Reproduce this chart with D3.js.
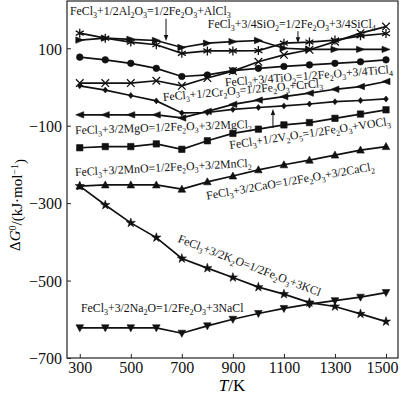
<!DOCTYPE html>
<html>
<head>
<meta charset="utf-8">
<script src="https://cdn.jsdelivr.net/npm/d3@7"></script>
<style>
  body { margin: 0; background: #fff; }
  svg { display: block; font-family: "Liberation Serif", "Times New Roman", serif; }
  .tick text { font-size: 16px; fill: #111; }
  .tick line { stroke: #222; }
  .rx-label { font-size: 11.8px; fill: #111; }
</style>
</head>
<body>
<div id="wrapper"></div>
<script>
// temperatures (K)
const temps = [300, 400, 500, 600, 700, 800, 900, 1000, 1100, 1200, 1300, 1400, 1500]

// dG0 values, kJ/mol
const alcl3 = [121, 126, 123, 120, 102, 113, 117, 120, 100, 97, 97, 97, 97]
const sicl4 = [139, 126, 116, 109, 87, 93, 93, 94, 113, 116, 121, 132, 138]
const tiDots = [77, 70, 61, 48, 27, 31, 42, 48, 53, 57, 61, 65, 70]
const crosses = [10, 10, 10, 16, 3, 23, 41, 65, 83, 96, 117, 139, 156]
const leftTri = [-72, -72, -72, -72, -80, -63, -45, -34, -25, -16, -6, 1, 14]
const diamonds = [3, -8, -22, -36, -67, -66, -58, -53, -49, -44, -38, -35, -31]
const squares = [-157, -154, -154, -147, -161, -139, -120, -109, -98, -92, -81, -70, -59]
const cacl2 = [-256, -253, -253, -253, -264, -245, -230, -214, -201, -189, -176, -163, -154]
const kcl = [-256, -305, -351, -389, -443, -468, -492, -517, -535, -557, -567, -586, -606]
const nacl = [-622, -622, -622, -622, -636, -617, -600, -585, -572, -561, -552, -543, -531]

const xTicks = [300, 500, 700, 900, 1100, 1300, 1500]
const yTicks = [100, -100, -300, -500, -700]

// 1. dimensions
let dimensions = {
  width: 400,
  height: 398,
  frame: { left: 67, right: 398, top: 1, bottom: 358 },
}

// 2. canvas
const svg = d3.select("#wrapper")
  .append("svg")
    .attr("width", dimensions.width)
    .attr("height", dimensions.height)

// 3. scales
const xScale = d3.scaleLinear()
  .domain([250, 1547])
  .range([dimensions.frame.left, dimensions.frame.right])

const yScale = d3.scaleLinear()
  .domain([-700, 222])
  .range([dimensions.frame.bottom, dimensions.frame.top])

// 4. axes + frame
const xAxis = svg.append("g")
  .attr("transform", `translate(0, ${dimensions.frame.bottom})`)
  .call(d3.axisBottom(xScale).tickValues(xTicks).tickSize(-4).tickPadding(4).tickFormat(d3.format("d")))
xAxis.select(".domain").remove()
// last label sits against the right edge in the original
xAxis.selectAll(".tick text").filter(d => d === 1500).attr("dx", -4)

const yAxis = svg.append("g")
  .attr("transform", `translate(${dimensions.frame.left}, 0)`)
  .call(d3.axisLeft(yScale).tickValues(yTicks).tickSize(-4).tickPadding(5))
yAxis.select(".domain").remove()
yAxis.selectAll(".tick text").attr("dy", "0.36em")

// d3 axes force sans-serif, put the serif back
svg.selectAll("g").attr("font-family", null).attr("font-size", null)

svg.append("rect")
  .attr("x", dimensions.frame.left)
  .attr("y", dimensions.frame.top)
  .attr("width", dimensions.frame.right - dimensions.frame.left)
  .attr("height", dimensions.frame.bottom - dimensions.frame.top)
  .attr("fill", "none")
  .attr("stroke", "#222")
  .attr("stroke-width", 1.2)

// axis titles
const xTitle = svg.append("text")
  .attr("x", 232)
  .attr("y", 391)
  .attr("text-anchor", "middle")
  .style("font-size", "17px")
xTitle.append("tspan").style("font-style", "italic").text("T")
xTitle.append("tspan").text("/K")

const yTitle = svg.append("text")
  .attr("transform", "translate(20, 205) rotate(-90)")
  .attr("text-anchor", "middle")
  .style("font-size", "15px")
yTitle.append("tspan").text("Δ")
yTitle.append("tspan").style("font-style", "italic").text("G")
yTitle.append("tspan").attr("dy", "-0.45em").style("font-size", "10px").text("0")
yTitle.append("tspan").attr("dy", "0.45em").text("/(kJ·mol")
yTitle.append("tspan").attr("dy", "-0.45em").style("font-size", "10px").text("−1")
yTitle.append("tspan").attr("dy", "0.45em").text(")")

// 5. markers
const markerShapes = {
  rightTri: { d: "M-4,-3.2L4,0L-4,3.2Z", fill: true },
  leftTri: { d: "M4,-3.2L-4,0L4,3.2Z", fill: true },
  upTri: { d: "M0,-4L3.8,3L-3.8,3Z", fill: true },
  downTri: { d: "M0,4L3.8,-3L-3.8,-3Z", fill: true },
  square: { d: "M-3.2,-3.2H3.2V3.2H-3.2Z", fill: true },
  circle: { d: d3.symbol(d3.symbolCircle, 34)(), fill: true },
  diamond: { d: "M0,-3L2.4,0L0,3L-2.4,0Z", fill: true },
  star: { d: d3.symbol(d3.symbolStar, 26)(), fill: true },
  asterisk: { d: "M0,-4.5V4.5M-4,-2.3L4,2.3M-4,2.3L4,-2.3", fill: false },
  cross: { d: "M-3.8,-3.8L3.8,3.8M-3.8,3.8L3.8,-3.8", fill: false },
}

const series = [
  { values: sicl4, marker: "asterisk" },
  { values: alcl3, marker: "rightTri" },
  { values: tiDots, marker: "circle" },
  { values: crosses, marker: "cross" },
  { values: leftTri, marker: "leftTri" },
  { values: diamonds, marker: "diamond" },
  { values: squares, marker: "square" },
  { values: cacl2, marker: "upTri" },
  { values: kcl, marker: "star" },
  { values: nacl, marker: "downTri" },
]

const lineGenerator = d3.line()
  .x((d, i) => xScale(temps[i]))
  .y(d => yScale(d))

const drawSeries = (s) => {
  const g = svg.append("g")
  g.append("path")
    .datum(s.values)
    .attr("d", lineGenerator)
    .attr("fill", "none")
    .attr("stroke", "#111")
    .attr("stroke-width", 1.7)
  const shape = markerShapes[s.marker]
  g.selectAll("path.pt")
    .data(s.values)
    .join("path")
      .attr("class", "pt")
      .attr("d", shape.d)
      .attr("transform", (d, i) => `translate(${xScale(temps[i])}, ${yScale(d)})`)
      .attr("fill", shape.fill ? "#111" : "none")
      .attr("stroke", "#111")
      .attr("stroke-width", shape.fill ? 0.6 : 1.3)
}
series.forEach(drawSeries)

// 6. reaction labels (pieces: [text, 1 if subscript])
const labels = [
  { t: 262, v: 186, rot: 0, parts: [["FeCl"], ["3", 1], ["+1/2Al"], ["2", 1], ["O"], ["3", 1], ["=1/2Fe"], ["2", 1], ["O"], ["3", 1], ["+AlCl"], ["3", 1]] },
  { t: 802, v: 152, rot: 0, parts: [["FeCl"], ["3", 1], ["+3/4SiO"], ["2", 1], ["=1/2Fe"], ["2", 1], ["O"], ["3", 1], ["+3/4SiCl"], ["4", 1]] },
  { t: 870, v: 2, rot: -4.5, parts: [["FeCl"], ["3", 1], ["+3/4TiO"], ["2", 1], ["=1/2Fe"], ["2", 1], ["O"], ["3", 1], ["+3/4TiCl"], ["4", 1]] },
  { t: 627, v: -36, rot: -5, parts: [["FeCl"], ["3", 1], ["+1/2Cr"], ["2", 1], ["O"], ["3", 1], ["=1/2Fe"], ["2", 1], ["O"], ["3", 1], ["+CrCl"], ["3", 1]] },
  { t: 282, v: -122, rot: -2, parts: [["FeCl"], ["3", 1], ["+3/2MgO=1/2Fe"], ["2", 1], ["O"], ["3", 1], ["+3/2MgCl"], ["2", 1]] },
  { t: 889, v: -160, rot: -8.5, parts: [["FeCl"], ["3", 1], ["+1/2V"], ["2", 1], ["O"], ["5", 1], ["=1/2Fe"], ["2", 1], ["O"], ["3", 1], ["+VOCl"], ["3", 1]] },
  { t: 282, v: -230, rot: -3, parts: [["FeCl"], ["3", 1], ["+3/2MnO=1/2Fe"], ["2", 1], ["O"], ["3", 1], ["+3/2MnCl"], ["2", 1]] },
  { t: 799, v: -291, rot: -10, parts: [["FeCl"], ["3", 1], ["+3/2CaO=1/2Fe"], ["2", 1], ["O"], ["3", 1], ["+3/2CaCl"], ["2", 1]] },
  { t: 682, v: -400, rot: 21, parts: [["FeCl"], ["3", 1], ["+3/2K"], ["2", 1], ["O=1/2Fe"], ["2", 1], ["O"], ["3", 1], ["+3KCl"]] },
  { t: 305, v: -581, rot: 0, parts: [["FeCl"], ["3", 1], ["+3/2Na"], ["2", 1], ["O=1/2Fe"], ["2", 1], ["O"], ["3", 1], ["+3NaCl"]] },
]

labels.forEach(l => {
  const text = svg.append("text")
    .attr("class", "rx-label")
    .attr("transform", `translate(${xScale(l.t)}, ${yScale(l.v)}) rotate(${l.rot})`)
  let wasSub = false
  l.parts.forEach(p => {
    const isSub = p[1] === 1
    const ts = text.append("tspan").text(p[0])
    if (isSub && !wasSub) ts.attr("dy", "3")
    if (!isSub && wasSub) ts.attr("dy", "-3")
    if (isSub) ts.style("font-size", "8px")
    wasSub = isSub
  })
})

// 7. arrows pointing at curves
const arrows = [
  { t: 638, from: 176, to: 119 },
  { t: 1155, from: 144, to: 113 },
  { t: 1057, from: -106, to: -57 },
]
arrows.forEach(a => {
  const x = xScale(a.t)
  const y0 = yScale(a.from)
  const y1 = yScale(a.to)
  const dir = y1 > y0 ? 1 : -1
  svg.append("line")
    .attr("x1", x).attr("x2", x)
    .attr("y1", y0).attr("y2", y1 - dir * 4)
    .attr("stroke", "#111")
    .attr("stroke-width", 1)
  svg.append("path")
    .attr("d", `M${x},${y1}L${x - 2.2},${y1 - dir * 6}L${x + 2.2},${y1 - dir * 6}Z`)
    .attr("fill", "#111")
})
</script>
</body>
</html>
